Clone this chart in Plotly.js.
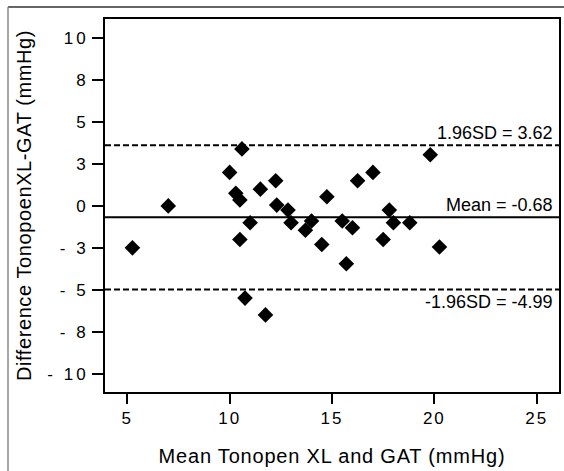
<!DOCTYPE html>
<html>
<head>
<meta charset="utf-8">
<script src="https://cdn.plot.ly/plotly-3.0.1.min.js"></script>
<style>
  html, body { margin: 0; padding: 0; background: #fff; }
  #chart { width: 564px; height: 471px; }
  .xtitle { letter-spacing: 0.8px; }
  .ytitle { letter-spacing: 0.6px; }
  .xtick text { letter-spacing: 2px; }
  .ytick text { letter-spacing: 3px; }
</style>
</head>
<body>
<div id="chart"></div>
<script>
// Mean of Tonopen XL and GAT (mmHg)
const meanVals = [5.25, 7.0, 10.0, 10.6, 10.3, 10.5, 11.5, 12.25, 12.3, 12.85,
                  11.0, 10.5, 13.0, 14.0, 13.7, 14.5, 14.75, 10.75, 11.75, 15.5,
                  15.7, 16.25, 17.0, 16.0, 17.8, 18.0, 17.5, 18.8, 19.8, 20.25];
// Difference Tonopen XL - GAT (mmHg)
const diffVals = [-2.5, 0.0, 2.0, 3.4, 0.75, 0.35, 1.0, 1.5, 0.05, -0.25,
                  -1.0, -2.0, -1.0, -0.9, -1.45, -2.3, 0.55, -5.5, -6.5, -0.9,
                  -3.45, 1.5, 2.0, -1.3, -0.25, -1.0, -2.0, -1.0, 3.05, -2.45];
// Agreement lines
const meanDiff = -0.68;
const upperLoA = 3.62;
const lowerLoA = -4.99;
const loaLabels = ["1.96SD = 3.62", "Mean = -0.68", "-1.96SD = -4.99"];
// Ticks
const xTickVals = [5, 10, 15, 20, 25];
const xTickText = ["5", "10", "15", "20", "25"];
const yTickVals = [-10, -7.5, -5, -2.5, 0, 2.5, 5, 7.5, 10];
const yTickText = ["- 10", "- 8", "- 5", "- 3", "0", "3", "5", "8", "10"];

const W = 564, H = 471;
const M = {l: 105, r: 5, t: 19, b: 79};
const pw = W - M.l - M.r, ph = H - M.t - M.b;
const px = v => (v - M.l) / pw;          // pixel -> paper x
const py = v => (H - M.b - v) / ph;      // pixel -> paper y

const font = "Liberation Sans, Arial, sans-serif";

const trace = {
  type: "scatter", mode: "markers",
  x: meanVals, y: diffVals,
  marker: {symbol: "diamond", size: 12, color: "#000"},
  hoverinfo: "x+y"
};

const layout = {
  width: W, height: H,
  margin: M,
  paper_bgcolor: "#fff", plot_bgcolor: "#fff",
  showlegend: false,
  font: {family: font, color: "#000"},
  xaxis: {
    range: [3.91, 26.09],
    tickvals: xTickVals, ticktext: xTickText,
    ticks: "outside", ticklen: 10, tickwidth: 2, tickcolor: "#000",
    showline: true, linewidth: 2, linecolor: "#000", mirror: true,
    showgrid: false, zeroline: false,
    tickfont: {size: 17, family: font},
    title: {text: "Mean Tonopen XL and GAT (mmHg)", font: {size: 20, family: font}, standoff: 22}
  },
  yaxis: {
    range: [-11.1, 11.15],
    tickvals: yTickVals, ticktext: yTickText,
    ticks: "outside", ticklen: 11, tickwidth: 2, tickcolor: "#000",
    showline: true, linewidth: 2, linecolor: "#000", mirror: true,
    showgrid: false, zeroline: false,
    tickfont: {size: 17, family: font},
    title: {text: "Difference TonopoenXL-GAT (mmHg)", font: {size: 20, family: font}, standoff: 10}
  },
  shapes: [
    {type: "line", xref: "paper", yref: "y", x0: 0, x1: 1, y0: upperLoA, y1: upperLoA,
     line: {color: "#000", width: 2, dash: "6px,3px"}},
    {type: "line", xref: "paper", yref: "y", x0: 0, x1: 1, y0: meanDiff, y1: meanDiff,
     line: {color: "#000", width: 2}},
    {type: "line", xref: "paper", yref: "y", x0: 0, x1: 1, y0: lowerLoA, y1: lowerLoA,
     line: {color: "#000", width: 2, dash: "6px,3px"}},
    // outer frame (top and left edges)
    {type: "line", xref: "paper", yref: "paper", x0: px(8), x1: px(564), y0: py(7), y1: py(7),
     line: {color: "#333", width: 1.5}},
    {type: "line", xref: "paper", yref: "paper", x0: px(8), x1: px(8), y0: py(7), y1: py(471),
     line: {color: "#888", width: 1.5}}
  ],
  annotations: [
    {xref: "paper", yref: "y", x: px(555), y: upperLoA, xanchor: "right", yanchor: "bottom",
     text: loaLabels[0], showarrow: false, font: {size: 18, family: font}, yshift: 0},
    {xref: "paper", yref: "y", x: px(555), y: meanDiff, xanchor: "right", yanchor: "bottom",
     text: loaLabels[1], showarrow: false, font: {size: 18, family: font}, yshift: 0},
    {xref: "paper", yref: "y", x: px(555), y: lowerLoA, xanchor: "right", yanchor: "top",
     text: loaLabels[2], showarrow: false, font: {size: 18, family: font}, yshift: 0}
  ]
};

Plotly.newPlot("chart", [trace], layout, {displayModeBar: false, staticPlot: true});
</script>
</body>
</html>
